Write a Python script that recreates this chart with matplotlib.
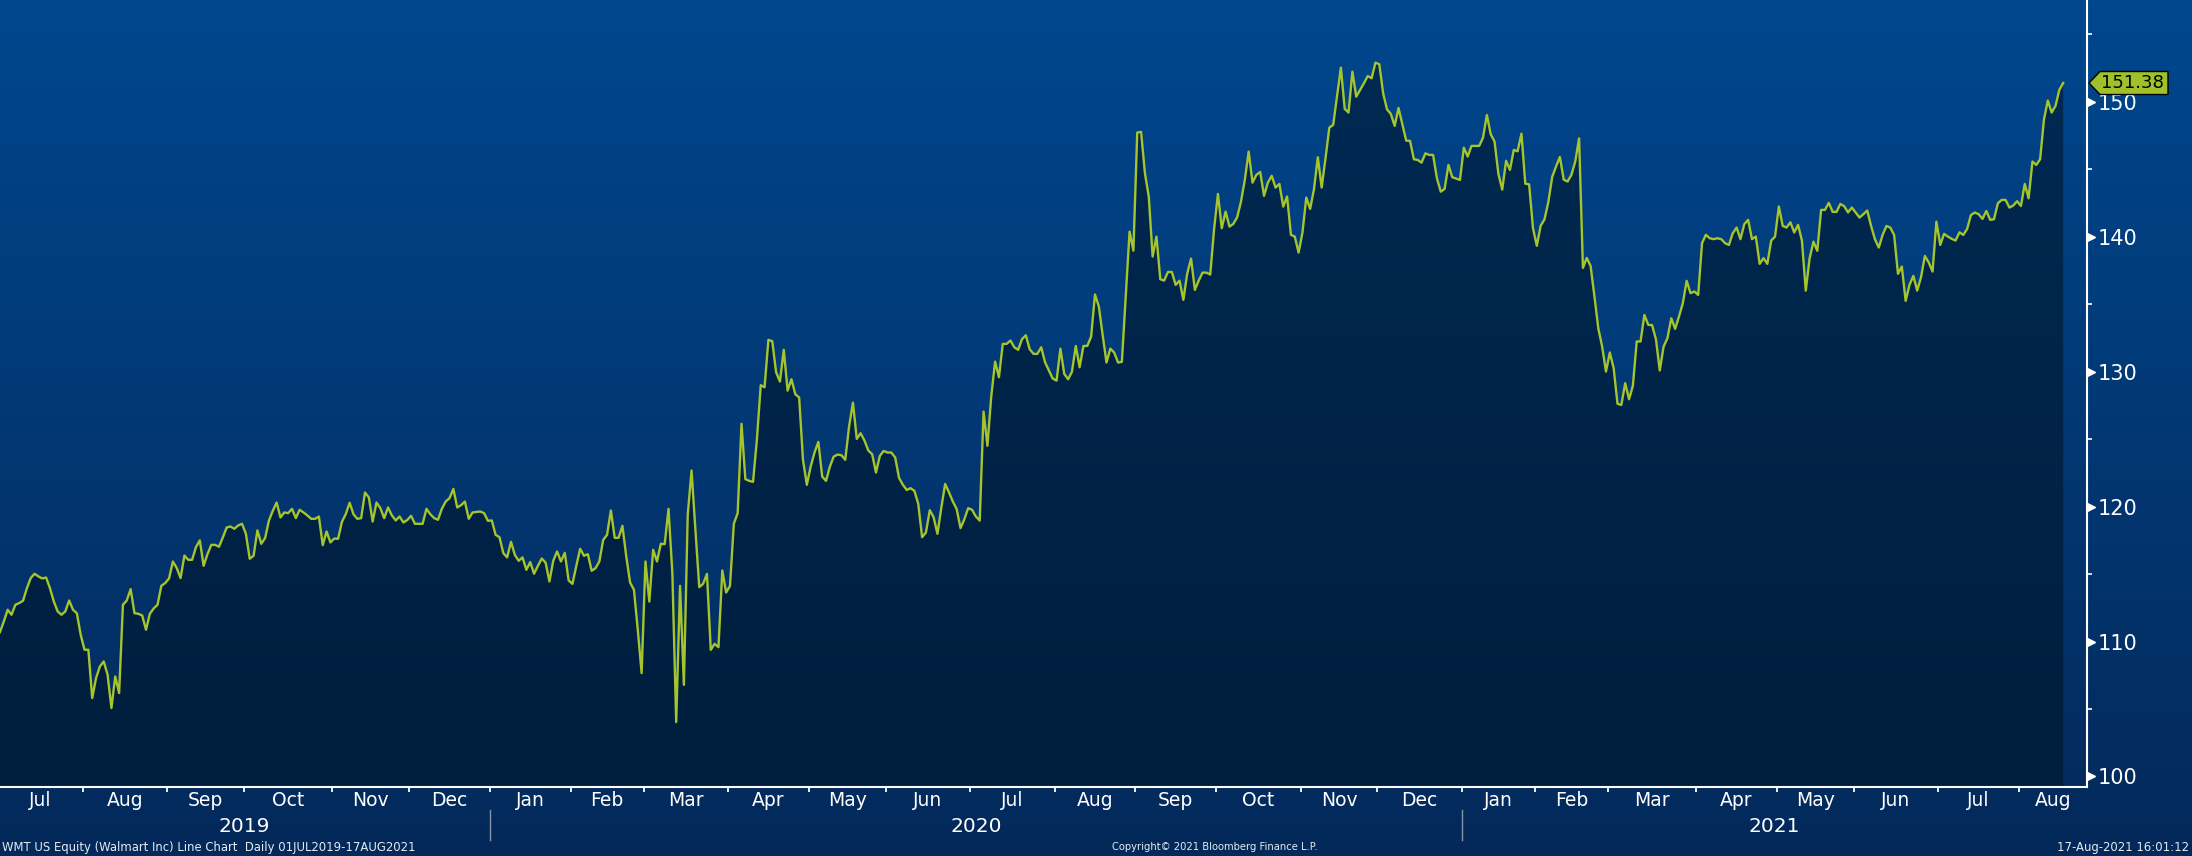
import numpy as np
import pandas as pd
import matplotlib
matplotlib.use("Agg")
import matplotlib.pyplot as plt
import matplotlib.transforms as mtransforms
from matplotlib.colors import LinearSegmentedColormap
from matplotlib.patches import Polygon
from matplotlib.lines import Line2D

# ---------------- data ----------------
start_date = "2019-07-01"
end_date = "2021-08-17"
market_holidays = ["2019-07-04", "2019-09-02", "2019-11-28", "2019-12-25",
                   "2020-01-01", "2020-01-20", "2020-02-17", "2020-04-10",
                   "2020-05-25", "2020-07-03", "2020-09-07", "2020-11-26",
                   "2020-12-25", "2021-01-01", "2021-01-18", "2021-02-15",
                   "2021-04-02", "2021-05-31", "2021-07-05"]

close_2019 = [
    # Jul
    110.70, 111.49, 112.35, 111.98, 112.72, 112.85, 113.02, 113.95, 114.70, 115.02, 114.82,
    114.67, 114.74, 113.95, 112.97, 112.23, 111.98, 112.23, 113.04, 112.35, 112.10, 110.50,
    # Aug
    109.39, 109.39, 105.81, 107.29, 108.15, 108.52, 107.54, 105.07, 107.41, 106.18, 112.72,
    113.04, 113.88, 112.10, 112.05, 111.93, 110.87, 112.05, 112.45, 112.72, 114.13, 114.33,
    # Sep
    114.67, 115.93, 115.44, 114.70, 116.37, 116.05, 116.05, 116.99, 117.49, 115.61,
    116.47, 117.16, 117.16, 117.02, 117.71, 118.45, 118.52, 118.35, 118.60, 118.72,
    # Oct
    117.98, 116.13, 116.35, 118.23, 117.24, 117.66, 118.97, 119.68, 120.30, 119.19, 119.56, 119.51,
    119.83, 119.14, 119.76, 119.56, 119.34, 119.09, 119.09, 119.26, 117.14, 118.15, 117.34,
    # Nov
    117.63, 117.61, 118.87, 119.44, 120.28, 119.43, 119.09, 119.14, 121.04, 120.67,
    118.89, 120.30, 119.88, 119.14, 119.93, 119.34, 118.97, 119.26, 118.82, 119.00,
    # Dec
    119.31, 118.72, 118.72, 118.72, 119.83, 119.43, 119.14, 119.02, 119.83, 120.37, 120.62,
    121.31, 119.93, 120.10, 120.37, 119.09, 119.56, 119.60, 119.63, 119.51, 118.94,
]

close_2020 = [
    # Jan
    118.97, 117.90, 117.73, 116.55, 116.23, 117.39, 116.42, 115.98, 116.23, 115.31, 115.88,
    115.02, 115.60, 116.15, 115.85, 114.45, 115.98, 116.67, 115.93, 116.57, 114.52,
    # Feb
    114.27, 115.60, 116.87, 116.35, 116.47, 115.24, 115.43, 115.93, 117.53, 117.90,
    119.71, 117.68, 117.68, 118.57, 116.30, 114.37, 113.83, 110.87, 107.66,
    # Mar
    115.93, 112.96, 116.79, 115.93, 117.24, 117.21, 119.83, 115.06, 104.03, 114.12, 106.79,
    119.38, 122.67, 118.27, 114.03, 114.27, 115.01, 109.38, 109.83, 109.58, 115.26, 113.63,
    # Apr
    114.12, 118.72, 119.51, 126.13, 122.03, 121.90, 121.83, 124.94, 128.99, 128.84, 132.35,
    132.25, 129.95, 129.26, 131.61, 128.59, 129.43, 128.32, 128.08, 123.46, 121.61,
    # May
    122.96, 124.00, 124.79, 122.22, 121.90, 122.96, 123.70, 123.85, 123.80, 123.46,
    125.93, 127.70, 125.01, 125.43, 124.89, 124.15, 123.88, 122.52, 123.75, 124.12,
    # Jun
    124.00, 124.00, 123.63, 122.12, 121.61, 121.23, 121.36, 121.16, 120.20, 117.73, 118.07,
    119.73, 119.20, 117.98, 119.90, 121.68, 121.05, 120.37, 119.81, 118.40, 119.06, 119.88,
    # Jul
    119.76, 119.26, 118.96, 127.04, 124.50, 128.15, 130.74, 129.58, 132.05, 132.05, 132.30,
    131.80, 131.61, 132.40, 132.69, 131.66, 131.31, 131.31, 131.80, 130.69, 130.08, 129.48,
    # Aug
    129.33, 131.70, 129.83, 129.43, 129.98, 131.90, 130.32, 131.90, 131.90, 132.59, 135.71,
    134.82, 132.70, 130.67, 131.70, 131.41, 130.67, 130.72, 135.50, 140.37, 138.96,
    # Sep
    147.71, 147.76, 144.69, 142.97, 138.52, 140.00, 136.84, 136.74, 137.38, 137.38, 136.42,
    136.74, 135.31, 137.24, 138.37, 136.05, 136.74, 137.33, 137.33, 137.19, 140.55,
    # Oct
    143.16, 140.62, 141.85, 140.74, 140.94, 141.43, 142.59, 144.20, 146.30, 144.00, 144.57,
    144.79, 143.02, 144.00, 144.50, 143.63, 143.90, 142.22, 142.97, 140.13, 140.00, 138.82,
    # Nov
    140.30, 142.89, 142.05, 143.51, 145.88, 143.63, 145.80, 148.08, 148.27, 150.37,
    152.52, 149.46, 149.19, 152.22, 150.37, 150.87, 151.36, 151.90, 151.73, 152.89,
    # Dec
    152.77, 150.62, 149.43, 149.09, 148.20, 149.53, 148.32, 147.11, 147.09, 145.73, 145.68,
    145.48, 146.17, 146.05, 146.05, 144.32, 143.33, 143.53, 145.31, 144.40, 144.30, 144.20,
]

close_2021 = [
    # Jan
    146.59, 145.93, 146.72, 146.72, 146.72, 147.33, 149.01, 147.58, 147.04, 144.64,
    143.48, 145.62, 144.94, 146.42, 146.32, 147.63, 143.92, 143.87, 140.62,
    # Feb
    139.32, 140.80, 141.28, 142.56, 144.42, 145.19, 145.90, 144.22, 144.08, 144.57,
    145.56, 147.28, 137.68, 138.42, 137.82, 135.56, 133.21, 131.85, 130.00,
    # Mar
    131.41, 130.25, 127.61, 127.53, 129.14, 127.95, 128.94, 132.23, 132.23, 134.20, 133.46, 133.44,
    132.40, 130.08, 131.85, 132.47, 133.95, 133.16, 134.08, 135.06, 136.72, 135.81, 135.93,
    # Apr
    135.68, 139.51, 140.13, 139.88, 139.81, 139.88, 139.81, 139.51, 139.38, 140.25, 140.67,
    139.81, 140.92, 141.24, 139.81, 140.00, 137.98, 138.40, 137.98, 139.70, 140.00,
    # May
    142.23, 140.79, 140.67, 141.06, 140.30, 140.87, 139.70, 136.00, 138.38, 139.63,
    138.95, 141.98, 141.98, 142.50, 141.83, 141.83, 142.42, 142.25, 141.79, 142.15,
    # Jun
    141.78, 141.41, 141.66, 141.93, 140.79, 139.81, 139.19, 140.12, 140.79, 140.67, 140.12,
    137.24, 137.78, 135.24, 136.42, 137.09, 136.00, 136.99, 138.57, 138.08, 137.41, 141.11,
    # Jul
    139.38, 140.20, 140.00, 139.83, 139.71, 140.32, 140.12, 140.57, 141.60, 141.78, 141.66,
    141.31, 141.90, 141.24, 141.29, 142.47, 142.72, 142.72, 142.15, 142.30, 142.62,
    # Aug
    142.27, 143.90, 142.84, 145.56, 145.31, 145.73, 148.69, 150.08, 149.19, 149.68, 150.87, 151.38,
]

y_ticks = [100, 110, 120, 130, 140, 150]
y_minor_ticks = [105, 115, 125, 135, 145, 155]
last_price_label = "151.38"
footer_left = "WMT US Equity (Walmart Inc) Line Chart  Daily 01JUL2019-17AUG2021"
footer_center = "Copyright\u00a9 2021 Bloomberg Finance L.P."
footer_right = "17-Aug-2021 16:01:12"

# ---------------- build series on a trading-day axis ----------------
dates = pd.bdate_range(start_date, end_date)
dates = dates[~dates.isin(pd.to_datetime(market_holidays))]
idx_all = np.arange(len(dates))

xs, ys = [], []
for year, vals in ((2019, close_2019), (2020, close_2020), (2021, close_2021)):
    pos = idx_all[dates.year == year]
    if len(pos) == len(vals):
        xs.append(pos.astype(float))
    else:
        xs.append(np.linspace(pos[0], pos[-1], len(vals)))
    ys.append(np.asarray(vals, dtype=float))
x = np.concatenate(xs)
y = np.concatenate(ys)

# ---------------- figure ----------------
W, H = 2192, 856
fig = plt.figure(figsize=(W / 100, H / 100), dpi=100)

grad = np.linspace(0, 1, 256).reshape(-1, 1)
bg = fig.add_axes([0, 0, 1, 1], zorder=0)
bg_cmap = LinearSegmentedColormap.from_list("bg", ["#04295a", "#00478e"])
bg.imshow(grad, aspect="auto", cmap=bg_cmap, origin="lower", extent=[0, 1, 0, 1])
bg.set_axis_off()

plot_bottom_px = 787
plot_right_px = 2087
ax = fig.add_axes([0, (H - plot_bottom_px) / H, plot_right_px / W, plot_bottom_px / H], zorder=1)
ax.patch.set_alpha(0)

ymin, ymax = 99.22, 157.53
xmax = 543.2

# dark gradient fill under the line
verts = np.vstack([[x[0], ymin], np.column_stack([x, y]), [x[-1], ymin]])
clip_poly = Polygon(verts, closed=True, facecolor="none", edgecolor="none", transform=ax.transData)
ax.add_patch(clip_poly)
fill_cmap = LinearSegmentedColormap.from_list("fill", ["#001e3d", "#002a54"])
im = ax.imshow(grad, aspect="auto", cmap=fill_cmap, origin="lower",
               extent=[x[0], x[-1], ymin, ymax], zorder=2, interpolation="bilinear")
im.set_clip_path(clip_poly)

ax.plot(x, y, color="#a6c42c", lw=1.7, zorder=3, solid_joinstyle="round")

ax.set_xlim(0, xmax)
ax.set_ylim(ymin, ymax)

for s in ("top", "left"):
    ax.spines[s].set_visible(False)
for s in ("right", "bottom"):
    ax.spines[s].set_color("white")
    ax.spines[s].set_linewidth(1.5)

# y axis (right)
ax.yaxis.tick_right()
ax.set_yticks(y_ticks)
ax.set_yticks(y_minor_ticks, minor=True)
ax.set_yticklabels([str(t) for t in y_ticks])
ax.tick_params(axis="y", which="major", length=0, pad=7.5, labelsize=15, labelcolor="white")
ax.tick_params(axis="y", which="minor", length=3.5, width=1.2, color="white", direction="out")
tri_tr = mtransforms.blended_transform_factory(ax.transAxes, ax.transData) + \
    mtransforms.ScaledTranslation(4 / 100, 0, fig.dpi_scale_trans)
ax.plot([1] * len(y_ticks), y_ticks, ls="none", marker=">", ms=5.5, color="white",
        transform=tri_tr, clip_on=False, zorder=5)

# x axis: month boundaries as ticks, labels centred in each month
periods = dates.to_period("M")
month_starts = [0] + [i for i in range(1, len(dates)) if periods[i] != periods[i - 1]]
month_labels = [dates[i].strftime("%b") for i in month_starts]
bounds = [s - 0.5 for s in month_starts[1:]]
ax.set_xticks(bounds)
ax.set_xticklabels([])
ax.tick_params(axis="x", which="major", length=3.5, width=1.3, color="white", direction="out")

lab_tr = mtransforms.blended_transform_factory(ax.transData, fig.transFigure)
edges = [-0.5] + bounds + [xmax]
for i, lab in enumerate(month_labels):
    cx = (edges[i] + edges[i + 1]) / 2
    fig.text(cx, (H - 801) / H, lab, transform=lab_tr, ha="center", va="center",
             color="white", fontsize=13.5)

years = sorted(set(dates.year))
year_edges = []
for yr in years:
    pos = idx_all[dates.year == yr]
    year_edges.append(pos[0] - 0.5)
year_edges = [max(e, -0.5) for e in year_edges] + [xmax]
for i, yr in enumerate(years):
    cx = (year_edges[i] + year_edges[i + 1]) / 2
    fig.text(cx, (H - 826) / H, str(yr), transform=lab_tr, ha="center", va="center",
             color="white", fontsize=14.5)
for e in year_edges[1:-1]:
    fig.add_artist(Line2D([e, e], [(H - 810) / H, (H - 840) / H], transform=lab_tr,
                          color="#8795aa", lw=1))

# last price tag
fig.canvas.draw()
yc = ax.transData.transform((0, y[-1]))[1]
tag = Polygon([(2089, yc), (2100, yc + 11.5), (2168, yc + 11.5), (2168, yc - 11.5), (2100, yc - 11.5)],
              closed=True, facecolor="#9fc22a", edgecolor="black", lw=1,
              transform=mtransforms.IdentityTransform(), zorder=10)
fig.add_artist(tag)
fig.text(2101, yc, last_price_label, transform=mtransforms.IdentityTransform(),
         ha="left", va="center", fontsize=13, color="black", zorder=11)

# footer
fy = (H - 847) / H
fig.text(2 / W, fy, footer_left, ha="left", va="center", fontsize=8.4, color="#e6ebf2")
fig.text(1215 / W, fy, footer_center, ha="center", va="center", fontsize=7.2, color="#e6ebf2")
fig.text(2189 / W, fy, footer_right, ha="right", va="center", fontsize=8.4, color="#e6ebf2")

fig.savefig("out.png", dpi=100)
